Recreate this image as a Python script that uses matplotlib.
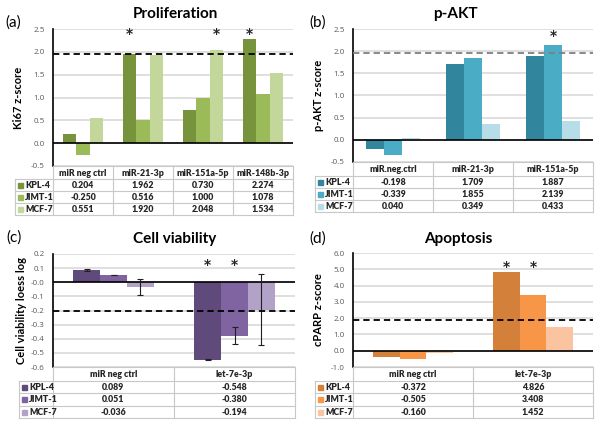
import matplotlib
matplotlib.use("Agg")
import matplotlib.pyplot as plt
import numpy as np

plt.rcParams['font.family'] = ['Lato', 'DejaVu Sans']

series = ['KPL-4', 'JIMT-1', 'MCF-7']

# (a) Proliferation
a_cats = ['miR neg ctrl', 'miR-21-3p', 'miR-151a-5p', 'miR-148b-3p']
a_kpl = [0.204, 1.962, 0.730, 2.274]
a_jimt = [-0.250, 0.516, 1.000, 1.078]
a_mcf = [0.551, 1.920, 2.048, 1.534]
a_stars = [(1, 0), (2, 2), (3, 0)]

# (b) p-AKT
b_cats = ['miR.neg.ctrl', 'miR-21-3p', 'miR-151a-5p']
b_kpl = [-0.198, 1.709, 1.887]
b_jimt = [-0.339, 1.855, 2.139]
b_mcf = [0.040, 0.349, 0.433]
b_stars = [(2, 1)]

# (c) Cell viability
c_cats = ['miR neg ctrl', 'let-7e-3p']
c_kpl = [0.089, -0.548]
c_jimt = [0.051, -0.380]
c_mcf = [-0.036, -0.194]
c_err_kpl = [0.006, 0.004]
c_err_jimt = [0.003, 0.060]
c_err_mcf = [0.056, 0.250]
c_stars = [(1, 0), (1, 1)]

# (d) Apoptosis
d_cats = ['miR neg ctrl', 'let-7e-3p']
d_kpl = [-0.372, 4.826]
d_jimt = [-0.505, 3.408]
d_mcf = [-0.160, 1.452]
d_stars = [(1, 0), (1, 1)]

W, H = 600, 432
fig = plt.figure(figsize=(6, 4.32), dpi=100)
ov = fig.add_axes([0, 0, 1, 1], zorder=10)
ov.set_xlim(0, W)
ov.set_ylim(H, 0)
ov.axis('off')
ov.patch.set_alpha(0)

GRID = '#D9D9D9'
TBL = '#C8C8C8'
TXT = '#262626'


def panel(x0, x1, top, bot, ylim, yticks, cats, vals, colors, stars, star_y,
          dash_y, dash_color, ylabel, ylab_x, title, title_xy, plabel, plabel_xy,
          label_left, header_h, row_h, errs=None):
    ax = fig.add_axes([x0 / W, 1 - bot / H, (x1 - x0) / W, (bot - top) / H])
    n = len(cats)
    x = np.arange(n)
    bw = 2 / 9
    for i, (v, c) in enumerate(zip(vals, colors)):
        ax.bar(x + (i - 1) * bw, v, width=bw, color=c, zorder=3)
        if errs is not None:
            ax.errorbar(x + (i - 1) * bw, v, yerr=errs[i], fmt='none',
                        ecolor='#202020', elinewidth=0.8, capsize=2, capthick=0.8, zorder=5)
    ax.set_xlim(-0.5, n - 0.5)
    ax.set_ylim(*ylim)
    ax.set_yticks(yticks)
    ax.set_yticklabels(['%.1f' % t for t in yticks], family='Open Sans')
    ax.tick_params(axis='y', length=0, pad=6, labelsize=5.8, labelcolor='#595959')
    ax.set_xticks([])
    for t in yticks:
        ax.axhline(t, color=GRID, lw=1.2, zorder=1)
    ax.axhline(0, color='black', lw=1.2, zorder=4)
    ax.axhline(dash_y, color=dash_color, lw=1.3, ls=(0, (3.5, 2.2)), zorder=6)
    for s in ['top', 'right', 'bottom']:
        ax.spines[s].set_visible(False)
    ax.spines['left'].set_color('black')
    ax.spines['left'].set_linewidth(1.2)
    for ci, si in stars:
        ax.text(ci + (si - 1) * bw, star_y, '*', ha='center', va='center',
                fontsize=10, fontweight='bold', color='#262626', zorder=7,
                family='DejaVu Sans')
    # labels
    ov.text(ylab_x, (top + bot) / 2, ylabel, rotation=90, ha='center', va='center',
            fontsize=8, fontweight='bold', color='black')
    ov.text(title_xy[0], title_xy[1], title, ha='center', va='center',
            fontsize=11, fontweight='bold', color='black')
    ov.text(plabel_xy[0], plabel_xy[1], plabel, ha='left', va='center',
            fontsize=11, color='black')
    # table
    cw = (x1 - x0) / n
    ybottom = bot + header_h + 3 * row_h
    lw = 0.8
    ov.plot([x0, x1], [bot, bot], color=TBL, lw=lw)
    for k in range(n + 1):
        ov.plot([x0 + k * cw, x0 + k * cw], [bot, ybottom], color=TBL, lw=lw)
    ov.plot([label_left, label_left], [bot + header_h, ybottom], color=TBL, lw=lw)
    for r in range(4):
        yy = bot + header_h + r * row_h
        ov.plot([label_left, x1], [yy, yy], color=TBL, lw=lw)
    for k, c in enumerate(cats):
        ov.text(x0 + (k + 0.5) * cw, bot + header_h / 2 + 0.5, c, ha='center', va='center',
                fontsize=6.3, fontweight='heavy', color=TXT)
    for r, (nm, v, col) in enumerate(zip(series, vals, colors)):
        yc = bot + header_h + (r + 0.5) * row_h + 0.3
        ov.add_patch(plt.Rectangle((label_left + 3, yc - 2.5), 5, 5, color=col))
        ov.text(label_left + 10, yc, nm, ha='left', va='center', fontsize=6.3,
                fontweight='heavy', color=TXT)
        for k in range(n):
            ov.text(x0 + (k + 0.5) * cw, yc, '%.3f' % v[k], ha='center', va='center',
                    fontsize=6.3, fontweight='heavy', color=TXT)
    return ax


panel(53, 293, 29, 166, (-0.5, 2.5), np.arange(-0.5, 2.51, 0.5), a_cats,
      [a_kpl, a_jimt, a_mcf], ['#77933C', '#9BBB59', '#C4D79B'], a_stars, 2.38,
      1.96, 'black', 'Ki67 z-score', 18, 'Proliferation', (175, 14), '(a)', (5, 23),
      15, 13, 12)

panel(353, 593, 29, 162, (-0.5, 2.5), np.arange(-0.5, 2.51, 0.5), b_cats,
      [b_kpl, b_jimt, b_mcf], ['#31859C', '#4BACC6', '#B7DEE8'], b_stars, 2.34,
      1.96, '#7F7F7F', 'p-AKT z-score', 318, 'p-AKT', (455, 14), '(b)', (309, 23),
      315, 14, 12)

panel(53, 295, 254, 367, (-0.6, 0.2), np.round(np.arange(-0.6, 0.21, 0.1), 1), c_cats,
      [c_kpl, c_jimt, c_mcf], ['#604A7B', '#8064A2', '#B3A2C7'], c_stars, 0.125,
      -0.2, 'black', 'Cell viability loess log', 22, 'Cell viability', (175, 239), '(c)', (6, 238),
      19, 14, 12.3, errs=[c_err_kpl, c_err_jimt, c_err_mcf])

panel(353, 593, 253, 367, (-1.0, 6.0), np.arange(-1.0, 6.01, 1.0), d_cats,
      [d_kpl, d_jimt, d_mcf], ['#D2803A', '#F79646', '#FAC4A0'], d_stars, 5.15,
      1.9, 'black', 'cPARP z-score', 318, 'Apoptosis', (458, 239), '(d)', (309, 239),
      315, 14, 12.3)

fig.savefig('out.png', dpi=100)
